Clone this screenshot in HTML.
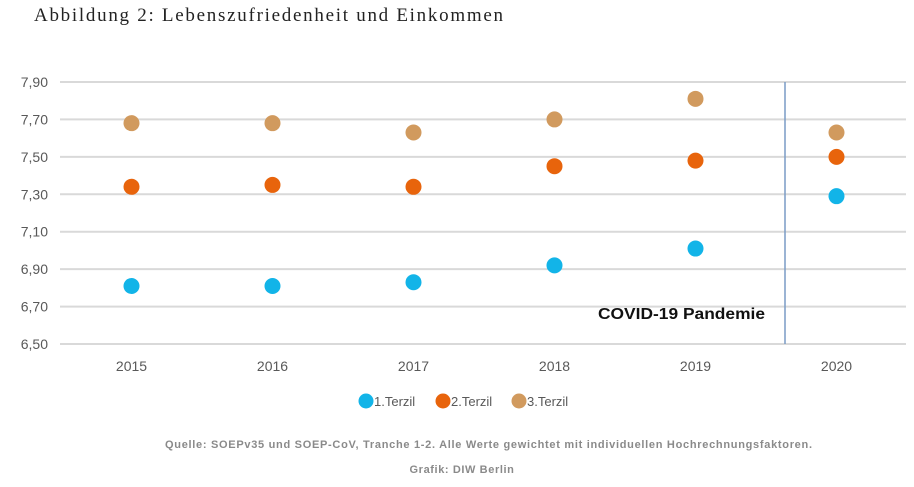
<!DOCTYPE html>
<html><head><meta charset="utf-8"><style>
body{margin:0;background:#fff;width:914px;height:482px;overflow:hidden}
svg text{font-family:"Liberation Sans",sans-serif}
</style></head><body>
<svg width="914" height="482">
<text x="34" y="21" style="font-family:'Liberation Serif',serif" font-size="19" textLength="469" lengthAdjust="spacing" fill="#222">Abbildung 2: Lebenszufriedenheit und Einkommen</text>
<g id="grid"></g><g id="marks"></g>
<text x="598" y="319" font-size="16" font-weight="bold" textLength="167" lengthAdjust="spacingAndGlyphs" fill="#111">COVID-19 Pandemie</text>
<g>
<circle cx="366" cy="401" r="7.5" fill="#12b4e8"/><text x="374" y="406" font-size="13" fill="#595959">1.Terzil</text>
<circle cx="443" cy="401" r="7.5" fill="#e8640c"/><text x="451" y="406" font-size="13" fill="#595959">2.Terzil</text>
<circle cx="519" cy="401" r="7.5" fill="#d19a5e"/><text x="527" y="406" font-size="13" fill="#595959">3.Terzil</text>
</g>
<text x="165" y="448" font-size="11" font-weight="bold" fill="#8a8a8a" textLength="647" lengthAdjust="spacing">Quelle: SOEPv35 und SOEP-CoV, Tranche 1-2. Alle Werte gewichtet mit individuellen Hochrechnungsfaktoren.</text>
<text x="462" y="473" text-anchor="middle" font-size="11" font-weight="bold" fill="#8a8a8a" letter-spacing="0.6">Grafik: DIW Berlin</text>
</svg>
<script>
const categories=["2015","2016","2017","2018","2019","2020"];
const terzil1=[6.81,6.81,6.83,6.92,7.01,7.29];
const terzil2=[7.34,7.35,7.34,7.45,7.48,7.50];
const terzil3=[7.68,7.68,7.63,7.70,7.81,7.63];
const yTicks=[6.5,6.7,6.9,7.1,7.3,7.5,7.7,7.9];
const ns="http://www.w3.org/2000/svg";
const x0=61,step=141,y0=344,yMin=6.5,yMax=7.9,yTop=82;
const xs=i=>x0+step*(i+0.5);
const ys=v=>y0-(v-yMin)/(yMax-yMin)*(y0-yTop);
const grid=document.getElementById('grid'),marks=document.getElementById('marks');
function mk(tag,attrs,parent){const e=document.createElementNS(ns,tag);for(const k in attrs)e.setAttribute(k,attrs[k]);parent.appendChild(e);return e;}
yTicks.forEach(t=>{
 const l=mk('line',{x1:60,x2:906,y1:ys(t),y2:ys(t),stroke:'#d9d9d9','stroke-width':2},grid);
 
 
 const tx=mk('text',{x:48,y:ys(t)+5,'text-anchor':'end','font-size':14,fill:'#595959'},grid);
 tx.textContent=t.toFixed(2).replace('.',',');
 
 
});
categories.forEach((c,i)=>{
 const tx=mk('text',{x:xs(i),y:371,'text-anchor':'middle','font-size':14,fill:'#595959'},grid);
 tx.textContent=c;
 
 
});
const vl=mk('line',{x1:785,x2:785,y1:82,y2:344,stroke:'#7a9cc6','stroke-width':1.5},grid);


[[terzil1,'#12b4e8','terzil1'],[terzil2,'#e8640c','terzil2'],[terzil3,'#d19a5e','terzil3']].forEach(([arr,col,n])=>{
 arr.forEach((v,i)=>{
  const c=mk('circle',{cx:xs(i),cy:ys(v),r:8,fill:col},marks);
  
  
 });
});
</script>
</body></html>
